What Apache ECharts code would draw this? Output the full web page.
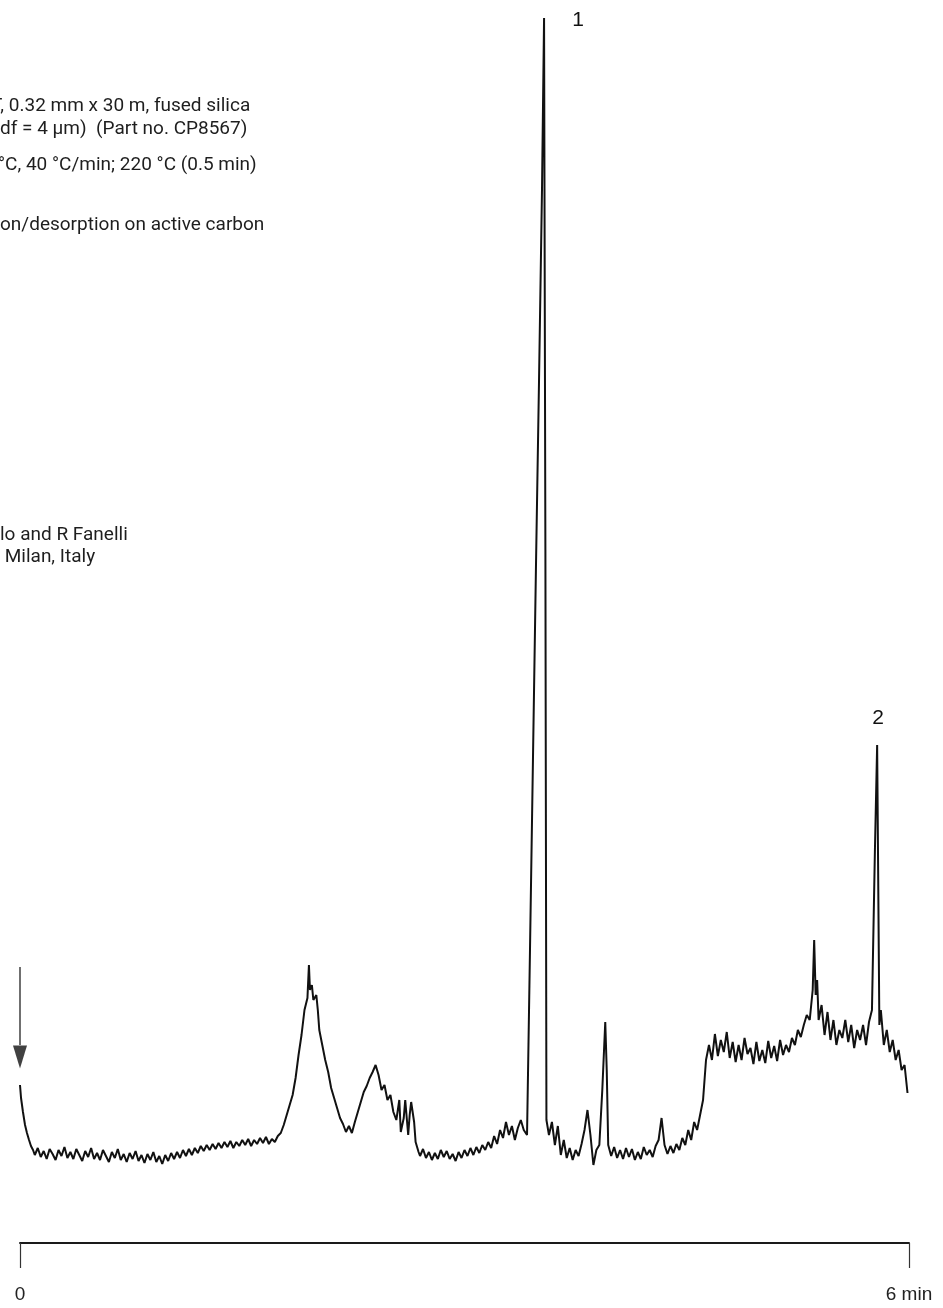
<!DOCTYPE html>
<html>
<head>
<meta charset="utf-8">
<script src="https://cdn.jsdelivr.net/npm/echarts@6/dist/echarts.min.js"></script>
<style>
html,body{margin:0;padding:0;background:#fff;}
#chart{width:943px;height:1308px;}
</style>
</head>
<body>
<div id="chart"></div>
<script>
// Retention time (min)
const times = [
  0, 0.007, 0.02, 0.034, 0.047, 0.061, 0.074, 0.088,
  0.10,0.12,0.14,0.16,0.18,0.20,0.22,0.24,0.26,0.28,
  0.30,0.32,0.34,0.36,0.38,0.40,0.42,0.44,0.46,0.48,
  0.50,0.52,0.54,0.56,0.58,0.60,0.62,0.64,0.66,0.68,
  0.70,0.72,0.74,0.76,0.78,0.80,0.82,0.84,0.86,0.88,
  0.90,0.92,0.94,0.96,0.98,1.00,1.02,1.04,1.06,1.08,
  1.10,1.12,1.14,1.16,1.18,1.20,1.22,
  1.24,1.26,1.28,1.30,1.32,1.34,1.36,1.38,1.40,1.42,
  1.44,1.46,1.48,1.50,1.52,1.54,1.56,1.58,1.60,1.62,
  1.64,1.66,1.68,1.70,1.72,1.74,1.76,
  1.78,1.80,1.82,1.84,1.86,1.88,1.90,1.92,1.94,1.95,
  1.957,1.97,1.98,2.00,2.01,2.02,2.04,2.06,2.08,2.10,
  2.12,2.14,2.16,2.18,2.20,2.22,2.24,2.26,2.28,2.30,
  2.32,2.34,2.36,2.38,2.40,2.42,2.44,2.46,2.48,2.50,
  2.52,2.54,2.56,2.57,2.59,2.60,2.62,2.63,2.64,2.66,
  2.67,2.69,
  2.70,2.72,2.74,2.76,2.78,2.80,2.82,2.84,2.86,2.88,
  2.90,2.92,2.94,2.96,2.98,3.00,3.02,3.04,3.06,3.08,
  3.10,3.12,3.14,3.16,3.18,3.20,3.22,3.24,3.26,3.28,
  3.30,3.32,3.34,3.36,3.38,3.40,
  3.422,3.442,3.462,3.482,3.503,3.523,3.537,3.546,3.553,
  3.57,3.59,3.61,3.63,3.65,3.67,3.69,3.71,3.73,3.75,
  3.77,3.79,3.81,3.83,3.85,3.87,3.89,3.91,3.93,3.95,
  3.96,3.97,3.99,4.01,4.03,4.05,4.07,4.09,4.11,4.13,
  4.15,4.17,4.19,4.21,4.23,4.25,4.27,4.29,4.31,4.33,
  4.35,4.37,4.39,4.41,4.43,4.45,4.47,4.49,4.51,4.53,
  4.55,4.57,4.59,4.61,4.63,4.65,
  4.67,4.69,4.71,4.73,4.75,4.77,4.79,4.81,4.83,4.85,
  4.87,4.89,4.91,4.93,4.95,4.97,4.99,5.01,5.03,5.05,
  5.07,5.09,5.11,5.13,5.15,5.17,5.19,
  5.21,5.23,5.25,5.27,5.29,5.31,5.33,5.35,5.36,5.37,5.38,5.39,
  5.41,5.43,5.45,5.47,5.49,5.51,5.53,5.55,5.57,5.59,
  5.61,5.63,5.65,5.67,5.69,5.71,5.73,5.75,
  5.77,5.785,5.80,5.81,
  5.83,5.85,5.87,5.89,5.91,5.93,5.95,5.97,5.99
];

// Detector signal (arbitrary units)
const signal = [
  6.5, 5.2, 3.8, 2.5, 1.7, 1.0, 0.4, 0.0,
  -0.5,0.2,-0.7,-0.1,-0.9,0.1,-0.4,-1.0,0.0,-0.6,
  0.3,-0.8,-0.2,-0.9,0.1,-0.5,-1.1,-0.1,-0.7,0.2,
  -0.9,-0.3,-1.0,0.0,-0.6,-1.2,-0.2,-0.8,0.1,-1.0,
  -0.4,-1.2,-0.3,-0.9,-0.1,-1.1,-0.5,-1.3,-0.4,-1.0,
  -0.2,-1.2,-0.6,-1.4,-0.5,-1.1,-0.3,-0.9,-0.2,-0.8,
  0.0,-0.6,0.1,-0.5,0.2,-0.3,0.4,
  -0.1,0.5,0.0,0.6,0.1,0.7,0.2,0.8,0.3,0.9,
  0.2,0.8,0.4,1.0,0.5,1.1,0.4,1.0,0.6,1.2,
  0.7,1.3,0.6,1.1,0.8,1.4,1.7,
  2.5,3.5,4.5,5.5,7.2,9.5,11.5,14.0,15.2,18.5,
  16.0,16.5,15.0,15.5,14.0,12.0,10.5,9.0,7.8,6.2,
  5.2,4.2,3.2,2.6,1.8,2.4,1.7,2.8,3.8,4.8,
  5.8,6.4,7.2,7.8,8.5,7.5,6.0,6.5,5.0,5.5,
  3.8,3.0,5.0,1.8,3.2,5.0,1.5,3.5,4.8,2.8,
  0.8,-0.2,
  -0.6,0.1,-0.8,-0.2,-1.0,-0.3,-0.9,0.0,-0.7,-0.1,
  -0.9,-0.4,-1.1,-0.2,-0.8,0.0,-0.6,0.2,-0.5,0.3,
  -0.3,0.5,0.0,0.8,0.2,1.4,0.6,2.0,1.2,2.8,
  1.5,2.4,1.0,2.2,3.0,2.0,
  1.5,20,39,58,77,96,113.2,60,3.0,
  1.5,2.8,0.5,2.4,-0.5,1.0,-0.8,0.2,-1.0,0.0,
  -0.6,0.6,2.0,4.0,1.5,-1.5,0.0,0.5,6.0,12.8,
  8.0,0.5,-0.6,0.3,-0.8,0.0,-0.9,0.2,-0.7,0.1,
  -1.0,-0.2,-0.9,0.3,-0.5,0.0,-0.7,0.4,1.0,3.2,
  0.5,-0.4,0.4,-0.3,0.6,0.0,1.2,0.5,2.0,1.0,
  2.8,2.0,3.5,5.0,9.0,10.5,
  9.0,11.6,9.4,11.0,9.8,11.8,9.2,10.8,8.8,10.5,
  9.0,11.2,9.6,10.2,8.6,10.8,8.9,10.0,8.7,10.9,
  9.2,10.4,8.9,11.0,9.5,10.5,9.8,
  11.2,10.5,12.0,11.3,12.5,13.5,13.0,16.0,21.0,15.5,17.0,13.0,
  14.5,11.5,13.8,11.0,13.0,10.5,12.0,11.2,13.0,10.8,
  12.5,10.2,12.0,11.0,12.5,10.5,12.8,14.0,
  30.0,40.5,12.5,14.0,
  10.5,12.0,9.8,11.0,9.0,10.0,8.0,8.5,5.7
];

// Peak labels: [time, signal, label]
const peakLabels = [
  [3.537, 113.2, '1'],
  [5.785, 40.5, '2']
];

// Injection arrow (time 0)
const injectionTime = 0;
const arrowStem = [18.3, 10.5];
const arrowHead = 9.3;

// Axis tick labels
const xTickLabels = {0: '0', 6: '6 min'};

// Method notes (text block, partially cropped at left)
const notes = [
  'T, 0.32 mm x 30 m, fused silica',
  'df = 4 µm)  (Part no. CP8567)',
  '°C, 40 °C/min; 220 °C (0.5 min)',
  'on/desorption on active carbon',
  'lo and R Fanelli',
  ' Milan, Italy'
];

const trace = times.map((t, i) => [t, signal[i]]);

const chart = echarts.init(document.getElementById('chart'), null, {renderer: 'canvas'});
const textFont = 'Roboto';
const textStyle = (s) => ({text: s, fontFamily: textFont, fontSize: 19, fill: '#1e1e1e', verticalAlign: 'middle'});
const notePos = [[-9, 106], [0, 129], [-2, 165], [0, 225], [0, 535], [0, 557]];

chart.setOption({
  animation: false,
  backgroundColor: '#ffffff',
  grid: {left: 20, right: 34, top: 0, bottom: 65, containLabel: false, outerBoundsMode: 'none'},
  xAxis: {
    type: 'value', min: 0, max: 6, interval: 6,
    axisLine: {show: true, onZero: false, lineStyle: {color: '#1a1a1a', width: 2}},
    axisTick: {show: true, inside: false, length: 25, lineStyle: {color: '#333', width: 1.2}},
    axisLabel: {
      show: true, margin: 42, color: '#222', fontFamily: 'Liberation Sans', fontSize: 19,
      formatter: (v) => xTickLabels[v] !== undefined ? xTickLabels[v] : ''
    },
    splitLine: {show: false}
  },
  yAxis: {
    type: 'value', min: -9.3, max: 115, show: false, splitLine: {show: false}
  },
  graphic: notes.map((s, i) => ({
    type: 'text', x: notePos[i][0], y: notePos[i][1], style: textStyle(s)
  })),
  series: [
    {
      type: 'line', data: trace, showSymbol: false, symbol: 'none',
      lineStyle: {color: '#111', width: 2}, clip: false,
      markPoint: {
        symbol: 'circle', symbolSize: 0,
        label: {show: true, color: '#111', fontFamily: 'Liberation Sans', fontSize: 21},
        data: [
          {coord: [peakLabels[0][0], peakLabels[0][1]], label: {formatter: peakLabels[0][2], offset: [34, 2]}},
          {coord: [peakLabels[1][0], peakLabels[1][1]], label: {formatter: peakLabels[1][2], offset: [1, -27]}}
        ]
      }
    },
    {
      type: 'line', data: arrowStem.map(v => [injectionTime, v]), showSymbol: false, symbol: 'none',
      lineStyle: {color: '#222', width: 1.3}, clip: false
    },
    {
      type: 'scatter', data: [[injectionTime, arrowHead]], symbol: 'triangle', symbolRotate: 180,
      symbolSize: [14, 23], itemStyle: {color: '#111'}, clip: false
    }
  ]
});
</script>
</body>
</html>
